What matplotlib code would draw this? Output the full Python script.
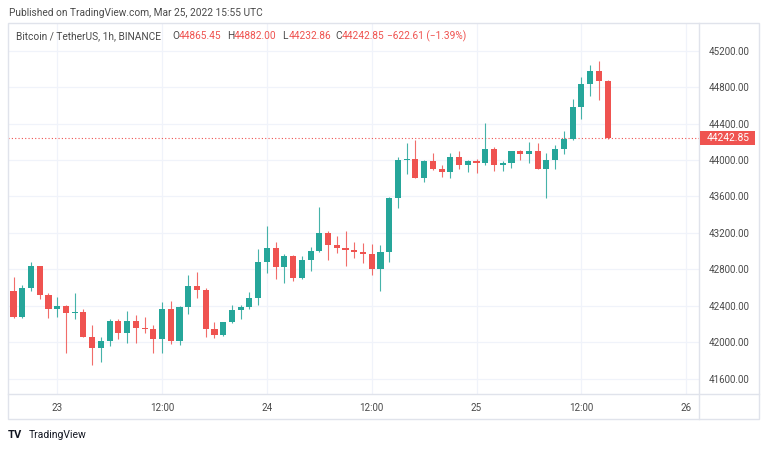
import numpy as np
import pandas as pd
import matplotlib
matplotlib.use('Agg')
import matplotlib.pyplot as plt
import matplotlib.dates as mdates
from matplotlib.lines import Line2D
from matplotlib.patches import Rectangle

plt.rcParams['font.family'] = ['Roboto', 'DejaVu Sans']

# Hourly BTC/USDT candles, Mar 22 19:00 -> Mar 25 15:00
opens = [42562, 42281, 42592, 42837, 42519, 42362, 42398, 42325, 42335, 42061,
         41940, 42017, 42233, 42098, 42233, 42160, 42149, 42035, 42362, 42017,
         42391, 42617, 42573, 42149, 42080, 42222, 42354, 42384, 42489, 42884,
         43034, 42822, 42947, 42702, 42903, 43005, 43195, 43067, 43037, 43009,
         42990, 42965, 42800, 42990, 43580, 44000, 44008, 43806, 43993, 43901,
         43865, 44029, 43941, 43993, 43963, 44124, 43941, 43963, 44095, 44066,
         44095, 43905, 44000, 44117, 44230, 44578, 44834, 44977, 44865.45]
highs = [42713, 42628, 42877, 42840, 42537, 42493, 42405, 42537, 42362, 42189,
         42061, 42255, 42255, 42343, 42296, 42277, 42186, 42438, 42453, 42402,
         42735, 42771, 42599, 42219, 42225, 42409, 42409, 42555, 43027, 43276,
         43104, 42968, 42957, 42950, 43041, 43481, 43224, 43166, 43217, 43100,
         43085, 43078, 43063, 43594, 44029, 44183, 44219, 44000, 44073, 43945,
         44073, 44095, 44000, 44015, 44402, 44146, 43993, 44095, 44110, 44201,
         44183, 44073, 44165, 44318, 44666, 44907, 45042, 45090, 44882.00]
lows = [42263, 42263, 42566, 42471, 42263, 42281, 41879, 42252, 42054, 41750,
        41787, 41959, 42032, 41988, 41995, 42098, 41885, 41885, 41977, 41966,
        42310, 42489, 42061, 42050, 42072, 42208, 42252, 42362, 42409, 42763,
        42694, 42647, 42676, 42695, 42785, 42990, 42903, 42983, 42840, 42925,
        42873, 42742, 42566, 42884, 43473, 43846, 43800, 43762, 43895, 43817,
        43806, 43901, 43872, 43854, 43941, 43883, 43876, 43912, 44000, 43971,
        43905, 43580, 43901, 44062, 44219, 44453, 44702, 44658, 44232.86]
closes = [42281, 42592, 42837, 42519, 42362, 42398, 42325, 42335, 42061, 41940,
          42017, 42233, 42098, 42233, 42160, 42149, 42035, 42362, 42017, 42391,
          42617, 42573, 42149, 42080, 42222, 42354, 42384, 42489, 42884, 43034,
          42822, 42947, 42702, 42903, 43005, 43195, 43067, 43037, 43009, 42990,
          42965, 42800, 42990, 43580, 44000, 44008, 43806, 43993, 43901, 43865,
          44029, 43941, 43993, 43963, 44124, 43941, 43963, 44095, 44066, 44095,
          43905, 44000, 44117, 44230, 44578, 44834, 44977, 44865.45, 44242.85]
times = pd.date_range('2022-03-22 19:00', periods=len(opens), freq='h')

price_ticks = [41600, 42000, 42400, 42800, 43200, 43600, 44000, 44400, 44800, 45200]
time_ticks = pd.to_datetime(['2022-03-23 00:00', '2022-03-23 12:00', '2022-03-24 00:00',
                             '2022-03-24 12:00', '2022-03-25 00:00', '2022-03-25 12:00',
                             '2022-03-26 00:00'])
time_labels = ['23', '12:00', '24', '12:00', '25', '12:00', '26']
last_price = 44242.85

UP = '#26a69a'
DOWN = '#ef5350'
TXT = '#4a4a4a'
LINE = '#e0e3eb'
GRID = '#f0f3fa'

W, H = 768, 450
fig = plt.figure(figsize=(W / 100, H / 100), dpi=100, facecolor='white')
L, R, T, B = 8.3, 699.3, 23.3, 394.3
ax = fig.add_axes([L / W, 1 - B / H, (R - L) / W, (B - T) / H])

x = mdates.date2num(times)
hour = 1 / 24
o = np.array(opens)
c = np.array(closes)
colors = [UP if cc >= oo else DOWN for oo, cc in zip(o, c)]
ax.vlines(x, lows, highs, colors=colors, linewidth=0.8, alpha=0.85, zorder=3)
body = np.maximum(np.abs(c - o), 8)
ax.bar(x, body, bottom=np.minimum(o, c), width=0.7 * hour, color=colors,
       linewidth=0, zorder=4)

ax.axhline(last_price, color=DOWN, linestyle=(0, (1, 2)), linewidth=0.8, zorder=2)

ax.set_xlim(x[0] - 0.6 * hour, x[0] + 78.5 * hour)
ax.set_ylim(41429, 45500)
ax.set_yticks(price_ticks)
ax.set_yticklabels(['%.2f' % p for p in price_ticks])
ax.set_xticks(mdates.date2num(time_ticks))
ax.set_xticklabels(time_labels)
ax.yaxis.tick_right()
ax.tick_params(axis='y', length=0, pad=6.5, labelsize=7, labelcolor=TXT)
ax.tick_params(axis='x', length=0, pad=6, labelsize=7, labelcolor=TXT)
ax.grid(True, color=GRID, linewidth=0.9, zorder=0)
ax.set_axisbelow(True)
for s in ax.spines.values():
    s.set_visible(False)

# outer frame and separators (figure pixel coords)
def px(xp, yp):
    return xp / W, 1 - yp / H

fx0, fy0 = px(8.3, 419)
fx1, fy1 = px(759, 23.3)
fig.patches.append(Rectangle((fx0, fy0), fx1 - fx0, fy1 - fy0, transform=fig.transFigure,
                             fill=False, edgecolor=LINE, linewidth=1))
fig.lines.append(Line2D([R / W, R / W], [fy0, fy1], transform=fig.transFigure,
                        color=LINE, linewidth=1))
fig.lines.append(Line2D([fx0, fx1], [1 - B / H, 1 - B / H], transform=fig.transFigure,
                        color=LINE, linewidth=1))

# last price label on the price scale
ly_px = ax.transData.transform((x[0], last_price))[1]
fig.patches.append(Rectangle(((R + 0.5) / W, (ly_px - 7.3) / H), 55.5 / W, 14.6 / H,
                             transform=fig.transFigure, facecolor=DOWN, edgecolor='none',
                             zorder=5))
fig.text((R + 28.5) / W, ly_px / H, '%.2f' % last_price, fontsize=7.4, color='white',
         ha='center', va='center', zorder=6)

# header texts
fig.text(9 / W, 1 - 13 / H, 'Published on TradingView.com, Mar 25, 2022 15:55 UTC',
         fontsize=7.3, color=TXT, va='center', ha='left')
ly = 1 - 36 / H
fig.text(16 / W, ly, 'Bitcoin / TetherUS, 1h, BINANCE', fontsize=7.3, color=TXT, va='center')
for xp, k, v in [(172, 'O', '44865.45'), (227, 'H', '44882.00'),
                 (282, 'L', '44232.86'), (335, 'C', '44242.85')]:
    fig.text(xp / W, ly, k, fontsize=7.3, color=TXT, va='center')
    fig.text((xp + 6.5) / W, ly, v, fontsize=7.3, color=DOWN, va='center')
fig.text(387 / W, ly, '\u2212622.61 (\u22121.39%)', fontsize=7.3, color=DOWN, va='center')

# footer logo
fig.text(8 / W, 1 - 435 / H, 'TV', fontsize=8, fontweight='bold', color='#131722', va='center')
fig.text(29 / W, 1 - 435 / H, 'TradingView', fontsize=7.5, color='#131722', va='center')

fig.savefig('out.png', dpi=100, facecolor='white')
